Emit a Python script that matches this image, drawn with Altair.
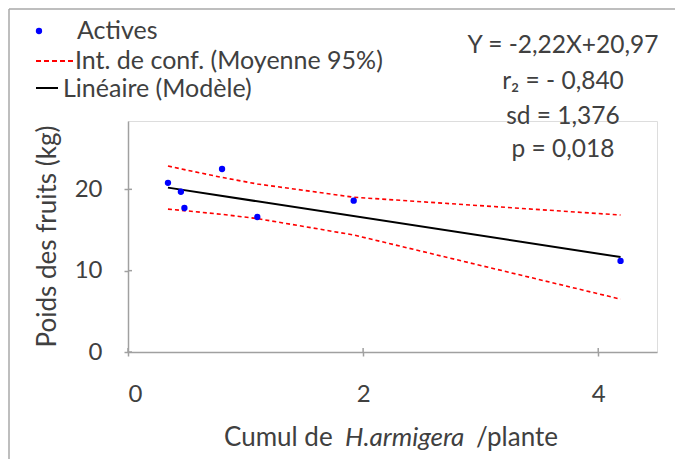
import altair as alt
import pandas as pd

# ---- data ----
x_obs = [0.34, 0.45, 0.48, 0.80, 1.10, 1.92, 4.19]
y_obs = [20.8, 19.7, 17.7, 22.5, 16.6, 18.6, 11.2]
fit_x = [0.34, 4.19]
fit_y = [20.21, 11.67]
ci_upper = [22.86, 22.52, 22.42, 21.46, 20.66, 19.03, 16.84]
ci_lower = [17.56, 17.42, 17.38, 16.92, 16.40, 14.39, 6.50]
x_ticks = [0, 2, 4]
y_ticks = [0, 10, 20]
stats_lines = ["Y = -2,22X+20,97", "r\u2082 = - 0,840", "sd = 1,376", "p = 0,018"]
legend_labels = ["Actives", "Int. de conf. (Moyenne 95%)", "Lin\u00e9aire (Mod\u00e8le)"]
x_title_parts = ["Cumul de", "H.armigera", "/plante"]
y_title = "Poids des fruits (kg)"

W, H = 529, 231
FONT = "Lato"
TXT = "#404040"
AX = "#A0A0A0"
FS_TICK = 24
FS_LEG = 25
FS_STAT = 24.5
FS_TITLE = 26
PB = 107  # bottom padding

pts = pd.DataFrame({"x": x_obs, "y": y_obs})
fit = pd.DataFrame({"x": fit_x, "y": fit_y})
band = pd.DataFrame({
    "x": x_obs + x_obs,
    "y": ci_upper + ci_lower,
    "b": ["upper"] * len(x_obs) + ["lower"] * len(x_obs),
})
one = pd.DataFrame({"k": [0]})

xs = alt.Scale(domain=[0, 4.5], nice=False, zero=False)
ys = alt.Scale(domain=[0, 28.4], nice=False)
xax = alt.Axis(values=x_ticks, title=None, grid=False, domainColor=AX, domainWidth=1.5,
               tickColor=AX, tickWidth=1.5, tickSize=4, labelFont=FONT, labelFontSize=FS_TICK,
               labelColor=TXT, labelBaseline="middle", labelPadding=38, format="d")
yax = alt.Axis(values=y_ticks, title=None, grid=False, domainColor=AX, domainWidth=1.5,
               tickColor=AX, tickWidth=1.5, tickSize=4, labelFont=FONT, labelFontSize=FS_TICK,
               labelColor=TXT, labelPadding=22, format="d")

X = lambda: alt.X("x:Q", scale=xs, axis=xax)
Y = lambda: alt.Y("y:Q", scale=ys, axis=yax)

lower_upper = alt.Chart(band).mark_line(color="#FF0000", strokeWidth=1.6, strokeDash=[4, 3]).encode(
    x=X(), y=Y(), detail="b:N")
fit_line = alt.Chart(fit).mark_line(color="#000000", strokeWidth=2).encode(x=X(), y=Y())
points = alt.Chart(pts).mark_circle(size=40, color="#0000FF", opacity=1).encode(x=X(), y=Y())

# inward half of the crossing tick marks
xt = alt.Chart(pd.DataFrame({"x": x_ticks})).mark_rule(color=AX, strokeWidth=1.5).encode(
    x=X(), y=alt.value(H - 4), y2=alt.value(H))
yt = alt.Chart(pd.DataFrame({"y": y_ticks})).mark_rule(color=AX, strokeWidth=1.5).encode(
    y=Y(), x=alt.value(0), x2=alt.value(4))

base = alt.Chart(one)
layers = [lower_upper, fit_line, points, xt, yt]

# border (top and left)
layers.append(base.mark_rule(color="#A8A8A8", strokeWidth=1.5).encode(
    x=alt.value(-119), x2=alt.value(W + 18), y=alt.value(-112)))
layers.append(base.mark_rule(color="#A8A8A8", strokeWidth=1.5).encode(
    x=alt.value(-119), y=alt.value(-112), y2=alt.value(H + PB)))

# legend
layers.append(base.mark_circle(size=40, color="#0000FF", opacity=1).encode(
    x=alt.value(-89), y=alt.value(-90)))
layers.append(base.mark_rule(color="#FF0000", strokeWidth=2, strokeDash=[5, 3]).encode(
    x=alt.value(-92), x2=alt.value(-54), y=alt.value(-60)))
layers.append(base.mark_rule(color="#000000", strokeWidth=2).encode(
    x=alt.value(-92), x2=alt.value(-70), y=alt.value(-33)))
leg_pos = [(-51, -90), (-53, -60), (-65, -32)]
for lab, (lx, ly) in zip(legend_labels, leg_pos):
    layers.append(base.mark_text(font=FONT, fontSize=FS_LEG, color=TXT, align="left", baseline="middle").encode(
        x=alt.value(lx), y=alt.value(ly), text=alt.value(lab)))

# statistics block
stat_y = [-75, -39, -4, 29]
for s, sy in zip(stats_lines, stat_y):
    layers.append(base.mark_text(font=FONT, fontSize=FS_STAT, color=TXT, align="center", baseline="middle").encode(
        x=alt.value(435), y=alt.value(sy), text=alt.value(s)))

# axis titles
xt_pos = [96, 217, 348]
xt_style = ["normal", "italic", "normal"]
for part, px, st in zip(x_title_parts, xt_pos, xt_style):
    layers.append(base.mark_text(font=FONT, fontSize=FS_TITLE, color=TXT, align="left", baseline="middle",
                                 fontStyle=st).encode(
        x=alt.value(px), y=alt.value(H + 86), text=alt.value(part)))
layers.append(base.mark_text(font=FONT, fontSize=FS_TITLE, color=TXT, align="center", baseline="middle",
                             angle=270).encode(
    x=alt.value(-80), y=alt.value(H / 2), text=alt.value(y_title)))

chart = alt.layer(*layers).properties(
    width=W, height=H,
    autosize=alt.AutoSizeParams(type="none"),
    padding={"left": 120, "top": 113, "right": 18, "bottom": PB},
).configure_view(stroke=None).configure(background="white")

chart.save("out.html", embed_options={"renderer": "svg", "actions": False})
